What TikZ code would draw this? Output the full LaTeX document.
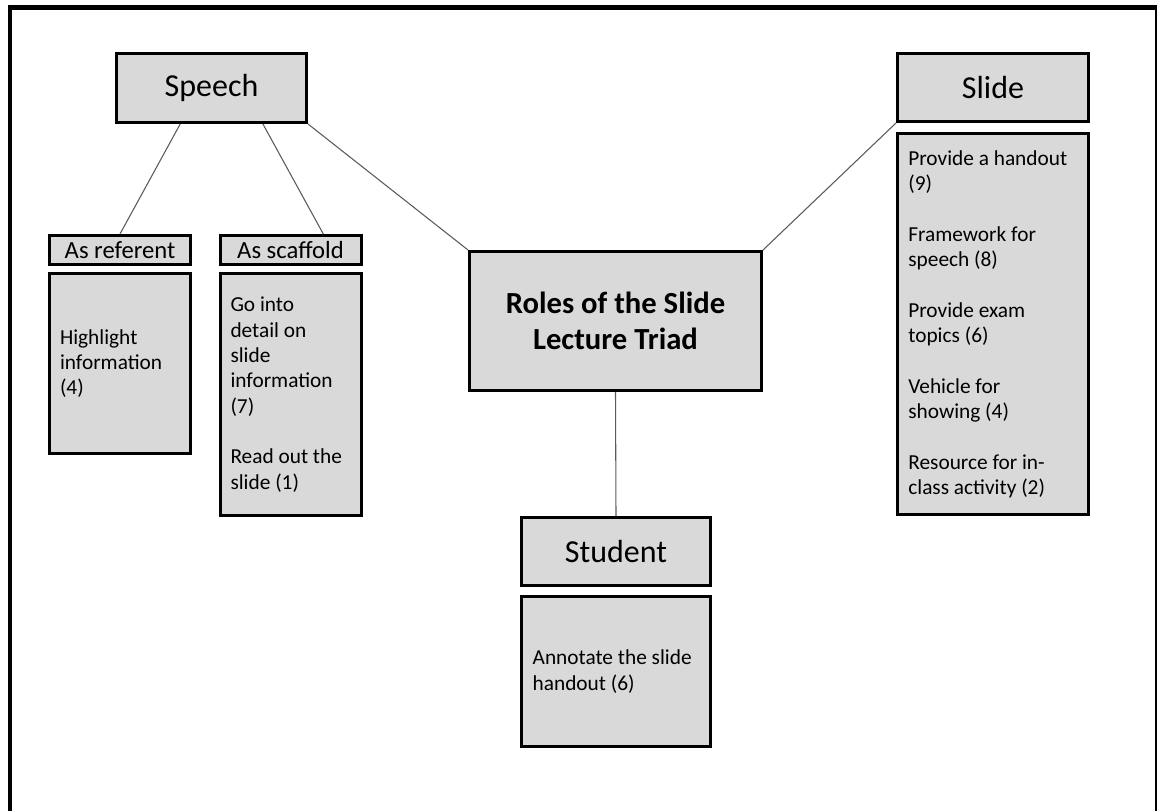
\documentclass[tikz,border=0pt]{standalone}
\usepackage{fontspec}
\setmainfont{Carlito}
\usepackage{tikz}
\usetikzlibrary{positioning}
\definecolor{boxgray}{RGB}{217,217,217}
\definecolor{linkgray}{RGB}{90,90,90}

\begin{document}
\begin{tikzpicture}[x=0.75pt,y=-0.75pt,
  headbox/.style={draw,line width=2.25pt,fill=boxgray,inner sep=0pt,font=\fontsize{24}{29}\selectfont},
  subbox/.style={draw,line width=2.25pt,fill=boxgray,inner sep=0pt,minimum width=105.75pt,minimum height=21.75pt,font=\fontsize{18.5}{22}\selectfont},
  itembox/.style={draw,line width=2.25pt,fill=boxgray,inner xsep=0pt,align=flush left,font=\fontsize{16}{19}\selectfont},
  link/.style={draw=linkgray,line width=0.8pt}]
  \useasboundingbox (0,0) rectangle (1157,811);
  \draw[line width=3.5pt] (10,811) -- (10,7.5) -- (1157,7.5) -- (1157,811);
  \node[headbox,minimum width=142.5pt,minimum height=51.75pt] (speech) at (211.5,88) {Speech};
  \node[headbox,minimum width=143.25pt,minimum height=51pt] (slide) at (993,87.5) {Slide};
  \node[itembox,below=7pt of slide,minimum width=143.25pt,minimum height=285.75pt,text width=127pt] (slideroles) {Provide a handout\\(9)\\[19pt]Framework for\\speech (8)\\[19pt]Provide exam\\topics (6)\\[19pt]Vehicle for\\showing (4)\\[19pt]Resource for in-\\class activity (2)};
  \node[subbox] (referent) at (120,250) {As referent};
  \node[itembox,below=4.5pt of referent,minimum width=105.75pt,minimum height=135pt,text width=90pt] (referentroles) {Highlight\\information\\(4)};
  \node[subbox] (scaffold) at (290.5,250) {As scaffold};
  \node[itembox,below=4.5pt of scaffold,minimum width=105.75pt,minimum height=181.5pt,text width=90pt] (scaffoldroles) {Go into\\detail on\\slide\\information\\(7)\\[19pt]Read out the\\slide (1)};
  \node[headbox,minimum width=219pt,minimum height=104.25pt,align=center,font=\fontsize{23}{27.5}\selectfont\bfseries] (triad) at (615.5,321) {Roles of the Slide\\Lecture Triad};
  \node[headbox,minimum width=141.75pt,minimum height=51pt] (student) at (616,551.5) {Student};
  \node[itembox,below=6pt of student,minimum width=141.75pt,minimum height=112.5pt,text width=125pt] (studentroles) {Annotate the slide\\handout (6)};
  \draw[link] (speech.229) -- (referent.north);
  \draw[link] (speech.325) -- (scaffold.26);
  \draw[link] (speech.south east) -- (triad.north west);
  \draw[link] (slide.south west) -- (triad.north east);
  \draw[link] (triad.south) -- (student.north);
\end{tikzpicture}
\end{document}
